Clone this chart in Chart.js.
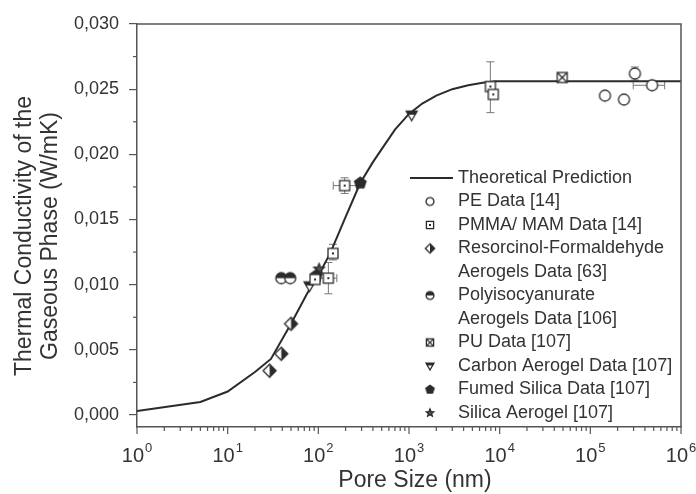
<!DOCTYPE html>
<html>
<head>
<meta charset="utf-8">
<script src="https://cdn.jsdelivr.net/npm/chart.js@4.4.1/dist/chart.umd.min.js"></script>
<style>
  body { margin: 0; background: #fff; }
  canvas { display: block; }
</style>
</head>
<body>
<canvas id="chart" width="696" height="494"></canvas>
<script>
const ink = "#2b2b2b";
const axisColor = "#555";
const fontFamily = '"Liberation Sans", Arial, sans-serif';

// theoretical curve (pore size nm, W/mK)
const theoryX = [1, 5, 10, 20, 30, 50, 75, 100, 135, 200, 290, 400, 500, 700, 1000, 1400, 2000, 3000, 4500, 6500, 9000, 1000000];
const theoryY = [0.0003, 0.0010, 0.0018, 0.0033, 0.0043, 0.0070, 0.0093, 0.0107, 0.0124, 0.0152, 0.0178, 0.0194, 0.0204, 0.0219, 0.0231, 0.0239, 0.0245, 0.0250, 0.0253, 0.0255, 0.0256, 0.0256];

// measured data
const peX = [145000, 235000, 310000, 480000];
const peY = [0.0245, 0.0242, 0.0262, 0.0253];
const peXErr = [null, null, null, [297000, 660000]];
const peYErr = [null, null, [0.0257, 0.0267], null];

const pmmaX = [92, 129, 145, 195, 7900, 8500];
const pmmaY = [0.0104, 0.0105, 0.0124, 0.0176, 0.0252, 0.0246];
const pmmaXErr = [null, [105, 160], null, [146, 264], null, null];
const pmmaYErr = [null, [0.0093, 0.0117], [0.0119, 0.0131], [0.0170, 0.0182], [0.0232, 0.0271], null];

const rfX = [29, 39, 50];
const rfY = [0.0034, 0.0047, 0.0070];

const piX = [39, 49];
const piY = [0.0105, 0.0105];

const puX = [49000];
const puY = [0.0259];

const carbonX = [80, 1070];
const carbonY = [0.0099, 0.0230];

const fumedX = [95, 290];
const fumedY = [0.0107, 0.0178];

const silicaX = [102];
const silicaY = [0.0112];

const yTicks = [0, 0.005, 0.010, 0.015, 0.020, 0.025, 0.030];
const decades = [0, 1, 2, 3, 4, 5, 6];

function pts(xs, ys) {
    return xs.map((x, i) => ({ x: x, y: ys[i] }));
}

// small canvases used as point styles
function marker(kind, r) {
    const s = Math.ceil(r * 2 + 4);
    const c = document.createElement("canvas");
    c.width = c.height = s;
    const g = c.getContext("2d");
    g.translate(s / 2, s / 2);
    g.lineWidth = 1.3;
    g.strokeStyle = ink;
    g.fillStyle = "#fff";
    if (kind === "circle") {
        g.beginPath(); g.arc(0, 0, r, 0, Math.PI * 2); g.fill(); g.stroke();
    } else if (kind === "squareDot") {
        g.fillRect(-r, -r, 2 * r, 2 * r); g.strokeRect(-r, -r, 2 * r, 2 * r);
        g.fillStyle = ink; g.fillRect(-1, -1, 2, 2);
    } else if (kind === "halfDiamond") {
        g.beginPath(); g.moveTo(0, -r); g.lineTo(r, 0); g.lineTo(0, r); g.lineTo(-r, 0); g.closePath();
        g.fill();
        g.fillStyle = ink;
        g.beginPath(); g.moveTo(0, -r); g.lineTo(r, 0); g.lineTo(0, r); g.closePath(); g.fill();
        g.beginPath(); g.moveTo(0, -r); g.lineTo(r, 0); g.lineTo(0, r); g.lineTo(-r, 0); g.closePath(); g.stroke();
    } else if (kind === "halfCircle") {
        g.beginPath(); g.arc(0, 0, r, 0, Math.PI * 2); g.fill();
        g.fillStyle = ink;
        g.beginPath(); g.arc(0, 0, r, Math.PI, Math.PI * 2); g.closePath(); g.fill();
        g.beginPath(); g.arc(0, 0, r, 0, Math.PI * 2); g.stroke();
    } else if (kind === "squareX") {
        g.fillRect(-r, -r, 2 * r, 2 * r); g.strokeRect(-r, -r, 2 * r, 2 * r);
        g.beginPath(); g.moveTo(-r, -r); g.lineTo(r, r); g.moveTo(r, -r); g.lineTo(-r, r); g.stroke();
    } else if (kind === "triangleDown") {
        g.beginPath(); g.moveTo(-r, -r * 0.75); g.lineTo(r, -r * 0.75); g.lineTo(0, r); g.closePath();
        g.fill();
        g.fillStyle = ink;
        g.beginPath(); g.moveTo(-r, -r * 0.75); g.lineTo(r, -r * 0.75); g.lineTo(r * 0.7, -r * 0.1); g.lineTo(-r * 0.7, -r * 0.1); g.closePath(); g.fill();
        g.beginPath(); g.moveTo(-r, -r * 0.75); g.lineTo(r, -r * 0.75); g.lineTo(0, r); g.closePath(); g.stroke();
    } else if (kind === "pentagon") {
        g.fillStyle = ink;
        g.beginPath();
        for (let k = 0; k < 5; k++) {
            const a = -Math.PI / 2 + k * 2 * Math.PI / 5;
            g.lineTo(r * Math.cos(a), r * Math.sin(a));
        }
        g.closePath(); g.fill(); g.stroke();
    } else if (kind === "star") {
        g.fillStyle = "#555";
        g.beginPath();
        for (let k = 0; k < 10; k++) {
            const a = -Math.PI / 2 + k * Math.PI / 5;
            const rr = k % 2 ? r * 0.45 : r;
            g.lineTo(rr * Math.cos(a), rr * Math.sin(a));
        }
        g.closePath(); g.fill(); g.stroke();
    }
    return c;
}

const series = [
    { label: "PE Data [14]", kind: "circle", r: 5.5, x: peX, y: peY, xErr: peXErr, yErr: peYErr },
    { label: "PMMA/ MAM Data [14]", kind: "squareDot", r: 5, x: pmmaX, y: pmmaY, xErr: pmmaXErr, yErr: pmmaYErr },
    { label: "Resorcinol-Formaldehyde\nAerogels Data [63]", kind: "halfDiamond", r: 6.5, x: rfX, y: rfY },
    { label: "Polyisocyanurate\nAerogels Data [106]", kind: "halfCircle", r: 5.5, x: piX, y: piY },
    { label: "PU Data [107]", kind: "squareX", r: 5, x: puX, y: puY },
    { label: "Carbon Aerogel Data [107]", kind: "triangleDown", r: 5.5, x: carbonX, y: carbonY },
    { label: "Fumed Silica Data [107]", kind: "pentagon", r: 6, x: fumedX, y: fumedY },
    { label: "Silica Aerogel [107]", kind: "star", r: 5.5, x: silicaX, y: silicaY }
];

const datasets = [{
    label: "Theoretical Prediction",
    data: pts(theoryX, theoryY),
    showLine: true,
    borderColor: ink,
    borderWidth: 2,
    pointRadius: 0,
    tension: 0,
    order: 1
}];
series.forEach(s => {
    datasets.push({
        label: s.label,
        data: pts(s.x, s.y),
        pointStyle: marker(s.kind, s.r),
        legendStyle: marker(s.kind, s.r * 0.72),
        xErr: s.xErr,
        yErr: s.yErr,
        order: 0
    });
});

const errorBars = {
    id: "errorBars",
    beforeDatasetsDraw(chart) {
        const { ctx, scales: { x, y } } = chart;
        ctx.save();
        ctx.strokeStyle = "#777";
        ctx.lineWidth = 1;
        const seg = (a, b, c, d) => { ctx.beginPath(); ctx.moveTo(a, b); ctx.lineTo(c, d); ctx.stroke(); };
        chart.data.datasets.forEach(ds => {
            ds.data.forEach((p, i) => {
                const px = x.getPixelForValue(p.x), py = y.getPixelForValue(p.y);
                const xe = ds.xErr && ds.xErr[i];
                const ye = ds.yErr && ds.yErr[i];
                if (xe) {
                    const a = x.getPixelForValue(xe[0]), b = x.getPixelForValue(xe[1]);
                    seg(a, py, b, py); seg(a, py - 4, a, py + 4); seg(b, py - 4, b, py + 4);
                }
                if (ye) {
                    const a = y.getPixelForValue(ye[0]), b = y.getPixelForValue(ye[1]);
                    seg(px, a, px, b); seg(px - 4, a, px + 4, a); seg(px - 4, b, px + 4, b);
                }
            });
        });
        ctx.restore();
    }
};

const decorations = {
    id: "decorations",
    afterDraw(chart) {
        const { ctx, chartArea: area, scales: { x, y } } = chart;
        ctx.save();
        ctx.strokeStyle = axisColor;
        ctx.lineWidth = 1.5;
        // top and right frame
        ctx.beginPath();
        ctx.moveTo(area.left, area.top); ctx.lineTo(area.right, area.top); ctx.lineTo(area.right, area.bottom);
        ctx.stroke();

        // x ticks (log decades + minors)
        ctx.lineWidth = 1.2;
        decades.forEach(e => {
            const v = Math.pow(10, e);
            const px = x.getPixelForValue(v);
            ctx.beginPath(); ctx.moveTo(px, area.bottom); ctx.lineTo(px, area.bottom + 7); ctx.stroke();
            if (e < 6) {
                for (let k = 2; k < 10; k++) {
                    const mx = x.getPixelForValue(k * v);
                    ctx.beginPath(); ctx.moveTo(mx, area.bottom); ctx.lineTo(mx, area.bottom + 4); ctx.stroke();
                }
            }
            // label 10^e
            ctx.fillStyle = "#333";
            ctx.textBaseline = "alphabetic";
            ctx.textAlign = "left";
            ctx.font = "20px " + fontFamily;
            const w1 = ctx.measureText("10").width;
            ctx.font = "13px " + fontFamily;
            const w2 = ctx.measureText(String(e)).width;
            const start = px - (w1 + w2 + 1) / 2;
            ctx.font = "20px " + fontFamily;
            ctx.fillText("10", start, 462);
            ctx.font = "13px " + fontFamily;
            ctx.fillText(String(e), start + w1 + 1, 452);
        });

        // y minor ticks
        for (let v = 0.0025; v < 0.03; v += 0.005) {
            const py = y.getPixelForValue(v);
            ctx.beginPath(); ctx.moveTo(area.left - 4, py); ctx.lineTo(area.left, py); ctx.stroke();
        }

        // axis titles
        ctx.fillStyle = "#333";
        ctx.textAlign = "center";
        ctx.textBaseline = "middle";
        ctx.font = "23px " + fontFamily;
        ctx.fillText("Pore Size (nm)", 415, 481);
        ctx.save();
        ctx.translate(25, 236);
        ctx.rotate(-Math.PI / 2);
        ctx.fillText("Thermal Conductivity of the", 0, 0);
        ctx.fillText("Gaseous Phase (W/mK)", 0, 26);
        ctx.restore();

        // legend
        ctx.font = "18px " + fontFamily;
        ctx.textAlign = "left";
        let row = 0;
        const rowY = i => 178 + i * 23.5;
        chart.data.datasets.forEach((ds, i) => {
            const yy = rowY(row);
            if (i === 0) {
                ctx.strokeStyle = ink;
                ctx.lineWidth = 2;
                ctx.beginPath(); ctx.moveTo(410, yy); ctx.lineTo(453, yy); ctx.stroke();
            } else {
                const m = ds.legendStyle;
                ctx.drawImage(m, 430 - m.width / 2, yy - m.height / 2);
            }
            ds.label.split("\n").forEach(line => {
                ctx.fillText(line, 458, rowY(row));
                row++;
            });
        });
        ctx.restore();
    }
};

new Chart(document.getElementById("chart"), {
    type: "scatter",
    data: { datasets: datasets },
    options: {
        responsive: false,
        animation: false,
        layout: { padding: { top: 24, right: 15, left: 0, bottom: 0 } },
        plugins: { legend: { display: false }, tooltip: { enabled: false } },
        scales: {
            x: {
                type: "logarithmic",
                min: 1,
                max: 1000000,
                grid: { display: false },
                ticks: { display: false },
                border: { color: axisColor, width: 1.5 },
                afterFit: s => { s.height = 67; }
            },
            y: {
                min: -0.00092,
                max: 0.030,
                afterBuildTicks: axis => { axis.ticks = yTicks.map(v => ({ value: v })); },
                ticks: {
                    color: "#333",
                    padding: 10,
                    font: { size: 18, family: fontFamily },
                    callback: v => v.toFixed(3).replace(".", ",")
                },
                grid: { drawOnChartArea: false, drawTicks: true, tickLength: 8, color: axisColor, lineWidth: 1.2 },
                border: { color: axisColor, width: 1.5 },
                afterFit: s => { s.width = 137; }
            }
        }
    },
    plugins: [errorBars, decorations]
});
</script>
</body>
</html>
